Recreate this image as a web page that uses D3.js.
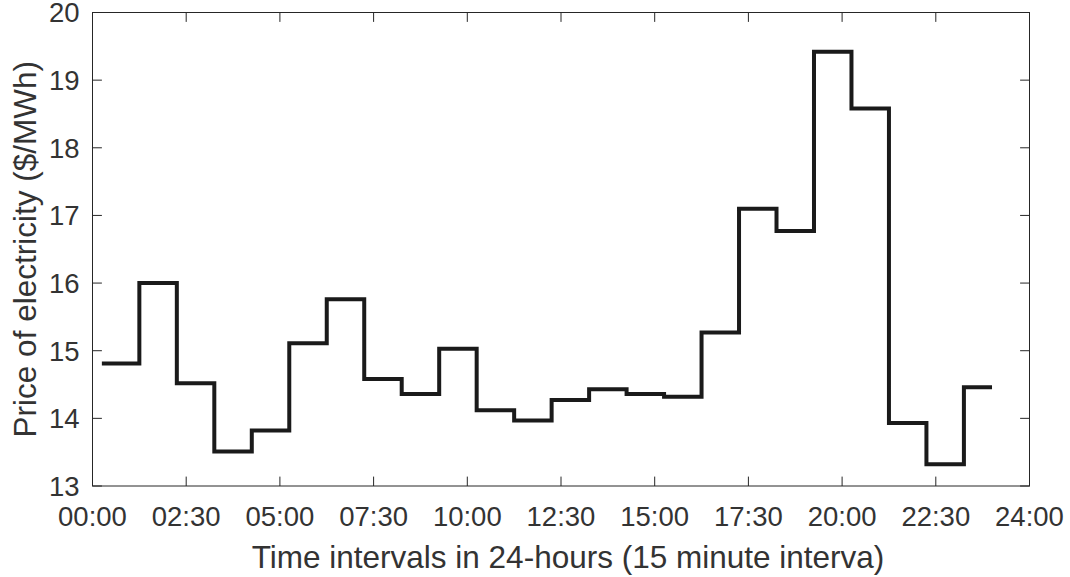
<!DOCTYPE html>
<html>
<head>
<meta charset="utf-8">
<script src="https://cdn.jsdelivr.net/npm/d3@7"></script>
<style>
  body { margin: 0; background: #fff; }
  text { font-family: "Liberation Sans", Arial, sans-serif; fill: #333; }
</style>
</head>
<body>
<script>
// hourly prices ($/MWh), one value per hour, held for four 15-minute slots
var hourlyPrice = [14.81, 16.00, 14.52, 13.51, 13.82, 15.11, 15.76, 14.58,
                   14.36, 15.03, 14.12, 13.97, 14.27, 14.43, 14.36, 14.32,
                   15.27, 17.10, 16.77, 19.42, 18.58, 13.93, 13.32, 14.46];
var slotsPerHour = 4;
var xTicks = [0, 10, 20, 30, 40, 50, 60, 70, 80, 90, 100];
var xTickLabels = ["00:00", "02:30", "05:00", "07:30", "10:00", "12:30",
                   "15:00", "17:30", "20:00", "22:30", "24:00"];
var yTicks = [13, 14, 15, 16, 17, 18, 19, 20];

var width = 1070, height = 577;
var margin = {left: 92.5, right: 40.5, top: 12.5, bottom: 91};

// slot index 1..96 with its hour's price
var series = [];
hourlyPrice.forEach(function(v, h) {
  for (var k = 0; k < slotsPerHour; k++) {
    series.push({slot: h * slotsPerHour + k + 1, price: v});
  }
});

var svg = d3.select('body').append('svg')
    .attr('width', width)
    .attr('height', height);

var x = d3.scaleLinear().domain([0, 100])
    .range([margin.left, width - margin.right]);
var y = d3.scaleLinear().domain([13, 20])
    .range([height - margin.bottom, margin.top]);

var tickLen = 9.4;
var axisColor = '#262626';
var tickFont = '27.5px';
var labelFont = '31.5px';

// box
svg.append('rect')
    .attr('x', x(0)).attr('y', y(20))
    .attr('width', x(100) - x(0)).attr('height', y(13) - y(20))
    .attr('fill', 'none').attr('stroke', axisColor).attr('stroke-width', 1);

// x ticks (bottom and top, inward)
var xg = svg.append('g');
xTicks.forEach(function(t, i) {
  xg.append('line').attr('x1', x(t)).attr('x2', x(t))
      .attr('y1', y(13)).attr('y2', y(13) - tickLen)
      .attr('stroke', axisColor);
  xg.append('line').attr('x1', x(t)).attr('x2', x(t))
      .attr('y1', y(20)).attr('y2', y(20) + tickLen)
      .attr('stroke', axisColor);
  xg.append('text')
      .attr('x', x(t)).attr('y', y(13) + 40)
      .attr('text-anchor', 'middle')
      .style('font-size', tickFont)
      .text(xTickLabels[i]);
});

// y ticks (left and right, inward)
var yg = svg.append('g');
yTicks.forEach(function(t) {
  yg.append('line').attr('x1', x(0)).attr('x2', x(0) + tickLen)
      .attr('y1', y(t)).attr('y2', y(t))
      .attr('stroke', axisColor);
  yg.append('line').attr('x1', x(100)).attr('x2', x(100) - tickLen)
      .attr('y1', y(t)).attr('y2', y(t))
      .attr('stroke', axisColor);
  yg.append('text')
      .attr('x', x(0) - 13).attr('y', y(t))
      .attr('dy', '0.36em')
      .attr('text-anchor', 'end')
      .style('font-size', tickFont)
      .text(t);
});

// stairs
var line = d3.line()
    .x(function(d) { return x(d.slot); })
    .y(function(d) { return y(d.price); })
    .curve(d3.curveStepAfter);

svg.append('path')
    .datum(series)
    .attr('d', line)
    .attr('fill', 'none')
    .attr('stroke', '#1a1a1a')
    .attr('stroke-width', 4)
    .attr('stroke-linejoin', 'miter')
    .attr('stroke-linecap', 'butt');

// axis labels
svg.append('text')
    .attr('x', (x(0) + x(100)) / 2 + 7).attr('y', 568)
    .attr('text-anchor', 'middle')
    .style('font-size', labelFont)
    .text('Time intervals in 24-hours (15 minute interva)');

svg.append('text')
    .attr('transform', 'translate(36,' + ((y(13) + y(20)) / 2) + ') rotate(-90)')
    .attr('text-anchor', 'middle')
    .style('font-size', labelFont)
    .text('Price of electricity ($/MWh)');
</script>
</body>
</html>
